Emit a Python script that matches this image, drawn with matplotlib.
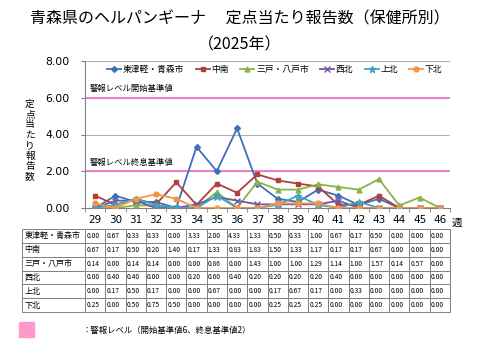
import matplotlib
matplotlib.use("Agg")
import matplotlib.pyplot as plt
import matplotlib.patches as mpatches
import numpy as np

plt.rcParams["font.family"] = ["Noto Sans CJK JP", "DejaVu Sans"]

weeks = [str(w) for w in range(29, 47)]
regions = ["東津軽・青森市", "中南", "三戸・八戸市", "西北", "上北", "下北"]
higashi = [0.00, 0.67, 0.33, 0.33, 0.00, 3.33, 2.00, 4.33, 1.33, 0.50, 0.33, 1.00, 0.67, 0.17, 0.50, 0.00, 0.00, 0.00]
chunan = [0.67, 0.17, 0.50, 0.20, 1.40, 0.17, 1.33, 0.83, 1.83, 1.50, 1.33, 1.17, 0.17, 0.17, 0.67, 0.00, 0.00, 0.00]
sannohe = [0.14, 0.00, 0.14, 0.14, 0.00, 0.00, 0.86, 0.00, 1.43, 1.00, 1.00, 1.29, 1.14, 1.00, 1.57, 0.14, 0.57, 0.00]
seihoku = [0.00, 0.40, 0.40, 0.00, 0.00, 0.20, 0.60, 0.40, 0.20, 0.20, 0.20, 0.20, 0.40, 0.00, 0.00, 0.00, 0.00, 0.00]
kamikita = [0.00, 0.17, 0.50, 0.17, 0.00, 0.00, 0.67, 0.00, 0.00, 0.17, 0.67, 0.17, 0.00, 0.33, 0.00, 0.00, 0.00, 0.00]
shimokita = [0.25, 0.00, 0.50, 0.75, 0.50, 0.00, 0.00, 0.00, 0.00, 0.25, 0.25, 0.25, 0.00, 0.00, 0.00, 0.00, 0.00, 0.00]
series = [higashi, chunan, sannohe, seihoku, kamikita, shimokita]
alarm_start = 6
alarm_end = 2

colors = ["#3F6FB5", "#B0403D", "#8DB04A", "#7256A0", "#3FA6C2", "#F39447"]
markers = ["D", "s", "^", "x", "*", "o"]
msizes = [3, 3.5, 3.5, 4, 5, 3.5]

W, H = 480, 360
fig = plt.figure(figsize=(4.8, 3.6), dpi=100)

x0, x1 = 85, 450
y_top, y_bot = 61, 208
ax = fig.add_axes([x0 / W, 1 - y_bot / H, (x1 - x0) / W, (y_bot - y_top) / H])

x = np.arange(len(weeks))
ax.set_xlim(-0.5, len(weeks) - 0.5)
ax.set_ylim(0, 8)

for y in [2, 4, 6, 8]:
    ax.axhline(y, color="#B0B0B0", lw=0.8, zorder=0)
ax.axhline(alarm_start, color="#F06CC8", lw=1.2, zorder=1)
ax.axhline(alarm_end, color="#F06CC8", lw=1.2, zorder=1)

for vals, name, c, m, ms in zip(series, regions, colors, markers, msizes):
    ax.plot(x, vals, color=c, marker=m, markersize=ms, lw=1.3, label=name,
            markeredgewidth=1.0, zorder=3)

for s in ["top", "right"]:
    ax.spines[s].set_visible(False)
ax.spines["left"].set_color("#808080")
ax.spines["bottom"].set_color("#808080")

ax.set_yticks([0, 2, 4, 6, 8])
ax.set_yticklabels([f"{v:.2f}" for v in [0, 2, 4, 6, 8]], fontsize=7.8, family="DejaVu Sans")
ax.tick_params(axis="y", length=3, color="#808080", pad=8)
ax.set_xticks(x)
ax.set_xticklabels(weeks, fontsize=7.5, family="DejaVu Sans")
ax.set_xticks(np.arange(-0.5, len(weeks)), minor=True)
ax.tick_params(axis="x", which="major", length=0, pad=5)
ax.tick_params(axis="x", which="minor", length=3, color="#808080")

ax.text(-0.25, 6.25, "警報レベル開始基準値", fontsize=6, va="bottom", ha="left")
ax.text(-0.25, 2.25, "警報レベル終息基準値", fontsize=6, va="bottom", ha="left")
ax.text(1.005, -0.07, "週", transform=ax.transAxes, fontsize=7.5, ha="left", va="top")

ax.legend(loc="upper center", bbox_to_anchor=(0.52, 1.0), ncol=6, fontsize=6.3,
          frameon=False, handlelength=1.6, handletextpad=0.2, columnspacing=1.3,
          borderaxespad=0.1)

fig.text(30 / W, 1 - 140 / H, "\n".join("定点当たり報告数"), fontsize=7,
         ha="center", va="center", linespacing=1.05)

fig.text(240 / W, 1 - 19 / H, "青森県のヘルパンギーナ　 定点当たり報告数（保健所別）",
         fontsize=11.5, ha="center", va="center")
fig.text(240 / W, 1 - 45 / H, "（2025年）", fontsize=11.5, ha="center", va="center")

# data table under the chart
t_left, t_top, t_bot = 22, 229, 312
tax = fig.add_axes([t_left / W, 1 - t_bot / H, (x1 - t_left) / W, (t_bot - t_top) / H])
tax.axis("off")
cell_text = [[f"{v:.2f}" for v in vals] for vals in series]
label_w = (x0 - t_left) / (x1 - t_left)
col_w = (1 - label_w) / len(weeks)
rows = [[r] + ct for r, ct in zip(regions, cell_text)]
tbl = tax.table(cellText=rows, colWidths=[label_w] + [col_w] * len(weeks),
                bbox=[0, 0, 1, 1], cellLoc="left")
tbl.auto_set_font_size(False)
for (r, c), cell in tbl.get_celld().items():
    cell.set_edgecolor("#808080")
    cell.set_linewidth(0.7)
    cell.PAD = 0.06 if c > 0 else 0.04
    cell.get_text().set_fontsize(4.8 if c > 0 else 5.8)

fig.patches.append(mpatches.Rectangle((19 / W, 1 - 337 / H), 15 / W, 15 / H,
                                      transform=fig.transFigure, color="#FF99CC"))
fig.text(82 / W, 1 - 330 / H, "：警報レベル（開始基準値6、終息基準値2）", fontsize=6,
         ha="left", va="center")

fig.savefig("out.png", dpi=100)
